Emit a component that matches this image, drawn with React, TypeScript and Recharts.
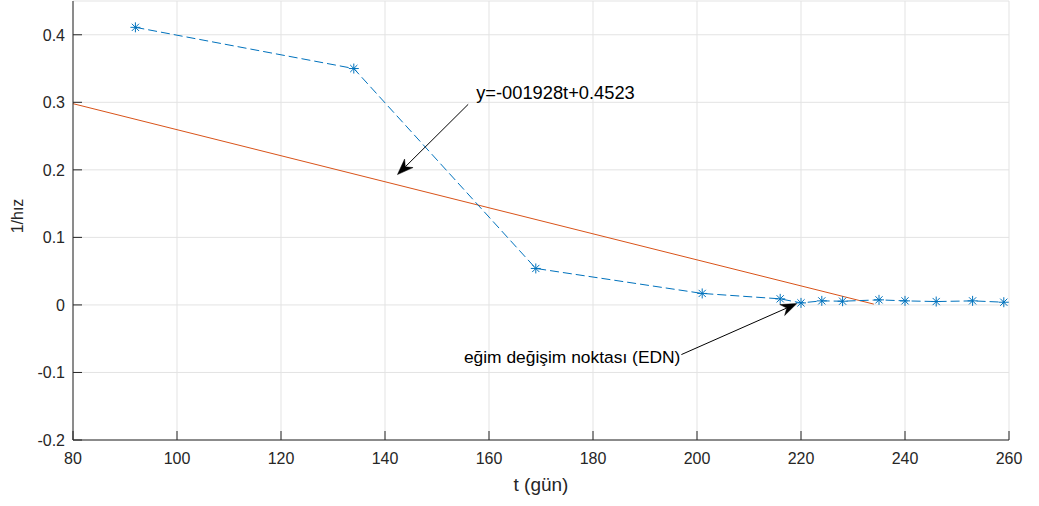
import { ComposedChart, Line, XAxis, YAxis, CartesianGrid, ReferenceLine } from 'recharts'

// measured points (t in days, 1/speed)
const tDays = [92, 134, 169, 201, 216, 220, 224, 228, 235, 240, 246, 253, 259]
const invSpeed = [0.411, 0.35, 0.054, 0.017, 0.009, 0.003, 0.006, 0.0055, 0.0075, 0.006, 0.005, 0.006, 0.004]

// fitted line y=-0.001928t+0.4523, drawn between these two t values
const fitT = [80, 234]
const fitY = [0.298, 0.0012]

const xTicks = [80, 100, 120, 140, 160, 180, 200, 220, 240, 260]
const yTicks = [-0.2, -0.1, 0, 0.1, 0.2, 0.3, 0.4]

const fitLabel = 'y=-001928t+0.4523'
const ednLabel = 'eğim değişim noktası (EDN)'

const FONT = '"Liberation Sans", Arial, Helvetica, sans-serif'
const AXIS = '#262626'
const BLUE = '#0072BD'
const ORANGE = '#D95319'
const TICK = 9

const measured = tDays.map((t, i) => ({ t, v: invSpeed[i] }))
const fit = fitT.map((t, i) => ({ t, v: fitY[i] }))

function Asterisk(props: any) {
  const { cx, cy } = props
  if (cx == null || cy == null) return null
  const r = 5
  const d = r * 0.72
  return (
    <g stroke={BLUE} strokeWidth={1}>
      <line x1={cx - r} y1={cy} x2={cx + r} y2={cy} />
      <line x1={cx} y1={cy - r} x2={cx} y2={cy + r} />
      <line x1={cx - d} y1={cy - d} x2={cx + d} y2={cy + d} />
      <line x1={cx - d} y1={cy + d} x2={cx + d} y2={cy - d} />
    </g>
  )
}

function BottomTick(props: any) {
  const { x, y, payload } = props
  return (
    <g>
      <line x1={x} y1={y} x2={x} y2={y - TICK} stroke={AXIS} />
      <text x={x} y={y + 24} textAnchor="middle" fontSize={16} fill={AXIS} fontFamily={FONT}>
        {payload.value}
      </text>
    </g>
  )
}

function TopTick(props: any) {
  const { x, y } = props
  return <line x1={x} y1={y} x2={x} y2={y + TICK} stroke={AXIS} />
}

function LeftTick(props: any) {
  const { x, y, payload } = props
  const v = payload.value
  const s = Math.abs(v) < 1e-9 ? '0' : v.toFixed(1)
  return (
    <g>
      <line x1={x} y1={y} x2={x + TICK} y2={y} stroke={AXIS} />
      <text x={x - 8} y={y + 6} textAnchor="end" fontSize={16} fill={AXIS} fontFamily={FONT}>
        {s}
      </text>
    </g>
  )
}

function RightTick(props: any) {
  const { x, y } = props
  return <line x1={x} y1={y} x2={x - TICK} y2={y} stroke={AXIS} />
}

function arrowShape(text: string, side: 'above' | 'left') {
  return (props: any) => {
    const { x1, y1, x2, y2 } = props
    if ([x1, y1, x2, y2].some((n) => n == null || isNaN(n))) return null
    const dx = x2 - x1
    const dy = y2 - y1
    const len = Math.hypot(dx, dy)
    const ux = dx / len
    const uy = dy / len
    const nx = -uy
    const ny = ux
    const L = 16
    const W = 6
    const bx = x2 - ux * L
    const by = y2 - uy * L
    const kx = x2 - ux * (L - 5)
    const ky = y2 - uy * (L - 5)
    const head = `${x2},${y2} ${bx + nx * W},${by + ny * W} ${kx},${ky} ${bx - nx * W},${by - ny * W}`
    return (
      <g>
        <line x1={x1} y1={y1} x2={kx} y2={ky} stroke="#000" strokeWidth={1} />
        <polygon points={head} fill="#000" stroke="#000" strokeWidth={0.5} />
        {side === 'above' ? (
          <text x={x1 + 8} y={y1 - 5} fontSize={18.3} fill="#000" fontFamily={FONT}>
            {text}
          </text>
        ) : (
          <text x={x1 - 1} y={y1 + 8} textAnchor="end" fontSize={17.4} fill="#000" fontFamily={FONT}>
            {text}
          </text>
        )}
      </g>
    )
  }
}

export default function App() {
  return (
    <div style={{ position: 'absolute', left: 0, top: 0, width: 1039, height: 506, background: '#fff' }}>
      <ComposedChart width={1039} height={506} margin={{ top: 1, right: 30, bottom: 0, left: 0 }}>
        <CartesianGrid stroke="#e3e3e3" />
        <XAxis
          dataKey="t"
          type="number"
          domain={[80, 260]}
          ticks={xTicks}
          allowDataOverflow
          height={66}
          tickSize={0}
          tickMargin={0}
          tickLine={false}
          axisLine={{ stroke: AXIS }}
          tick={<BottomTick />}
          label={{
            content: (p: any) => {
              const vb = p.viewBox
              return (
                <text x={vb.x + vb.width / 2} y={vb.y + 51} textAnchor="middle" fontSize={19} fill={AXIS} fontFamily={FONT}>
                  t (gün)
                </text>
              )
            },
          }}
        />
        <XAxis
          xAxisId="top"
          orientation="top"
          type="number"
          domain={[80, 260]}
          ticks={xTicks}
          allowDataOverflow
          height={0}
          tickSize={0}
          tickMargin={0}
          tickLine={false}
          axisLine={{ stroke: AXIS }}
          tick={<TopTick />}
        />
        <YAxis
          type="number"
          domain={[-0.2, 0.45]}
          ticks={yTicks}
          allowDataOverflow
          width={73}
          tickSize={0}
          tickMargin={0}
          tickLine={false}
          axisLine={{ stroke: AXIS }}
          tick={<LeftTick />}
          label={{
            content: (p: any) => {
              const vb = p.viewBox
              const cx = vb.x + 17.5
              const cy = vb.y + vb.height / 2 - 4.5
              return (
                <text x={cx} y={cy} transform={`rotate(-90, ${cx}, ${cy})`} textAnchor="middle" dominantBaseline="central" fontSize={16} fill={AXIS} fontFamily={FONT}>
                  1/hız
                </text>
              )
            },
          }}
        />
        <YAxis
          yAxisId="right"
          orientation="right"
          type="number"
          domain={[-0.2, 0.45]}
          ticks={yTicks}
          allowDataOverflow
          width={0}
          tickSize={0}
          tickMargin={0}
          tickLine={false}
          axisLine={{ stroke: AXIS }}
          tick={<RightTick />}
        />
        <Line
          data={fit}
          dataKey="v"
          type="linear"
          stroke={ORANGE}
          strokeWidth={1}
          dot={false}
          activeDot={false}
          isAnimationActive={false}
        />
        <Line
          data={measured}
          dataKey="v"
          type="linear"
          stroke={BLUE}
          strokeWidth={1}
          strokeDasharray="9 4"
          dot={<Asterisk />}
          activeDot={false}
          isAnimationActive={false}
        />
        <ReferenceLine
          segment={[{ x: 156, y: 0.297 }, { x: 142.4, y: 0.193 }]}
          shape={arrowShape(fitLabel, 'above')}
        />
        <ReferenceLine
          segment={[{ x: 197, y: -0.0735 }, { x: 219.2, y: 0.002 }]}
          shape={arrowShape(ednLabel, 'left')}
        />
      </ComposedChart>
    </div>
  )
}
